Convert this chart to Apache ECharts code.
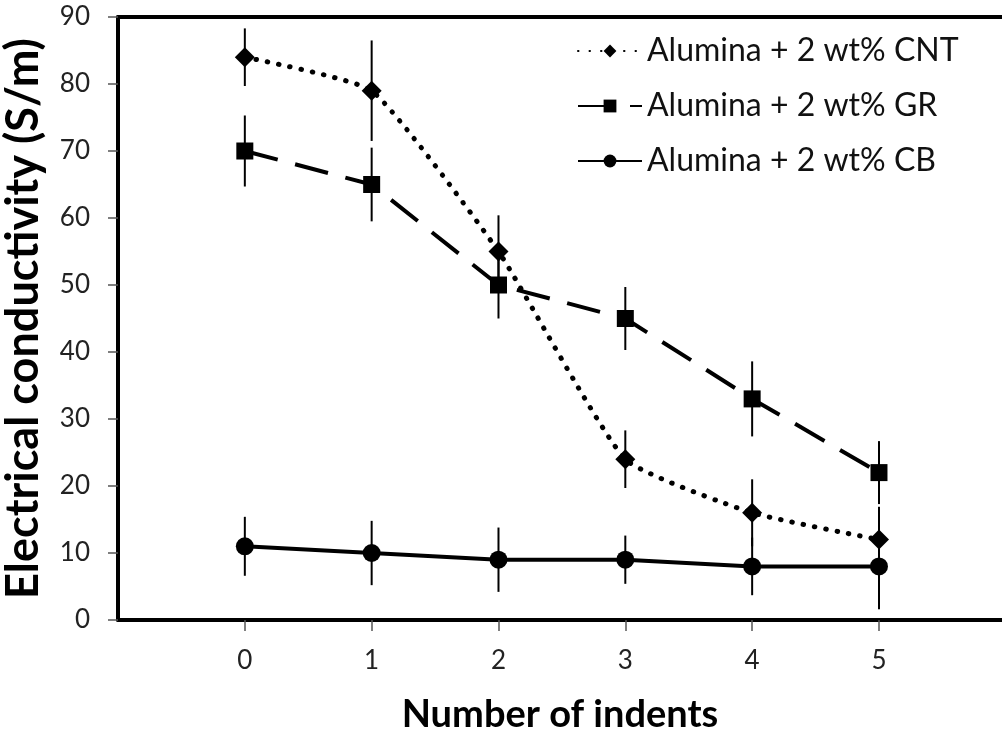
<!DOCTYPE html>
<html>
<head>
<meta charset="utf-8">
<script src="https://cdn.jsdelivr.net/npm/echarts@6/dist/echarts.min.js"></script>
<style>html,body{margin:0;padding:0;background:#fff}#c{width:1002px;height:733px}</style>
</head>
<body>
<div id="c"></div>
<script>
const indents = [0, 1, 2, 3, 4, 5];
const xTickLabels = ['0', '1', '2', '3', '4', '5'];
const cntValues = [84, 79, 55, 24, 16, 12];
const cntErrors = [4.3, 7.5, 5.4, 4.3, 5.0, 4.9];
const grValues = [70, 65, 50, 45, 33, 22];
const grErrors = [5.3, 5.5, 5.0, 4.7, 5.6, 4.7];
const cbValues = [11, 10, 9, 9, 8, 8];
const cbErrors = [4.4, 4.8, 4.8, 3.6, 4.3, 6.4];
const names = ['Alumina + 2 wt% CNT', 'Alumina + 2 wt% GR', 'Alumina + 2 wt% CB'];

const FONT = 'Lato';
function pts(vals) { return indents.map((x, i) => [x, vals[i]]); }
function errData(vals, errs) { return indents.map((x, i) => [x, vals[i] - errs[i], vals[i] + errs[i]]); }
function errSeries(vals, errs) {
  return {
    type: 'custom', z: 1, silent: true, xAxisIndex: 0, yAxisIndex: 0,
    data: errData(vals, errs),
    encode: { x: 0, y: [1, 2] },
    renderItem: function (params, api) {
      const lo = api.coord([api.value(0), api.value(1)]);
      const hi = api.coord([api.value(0), api.value(2)]);
      return { type: 'line', shape: { x1: lo[0], y1: lo[1], x2: hi[0], y2: hi[1] },
               style: { stroke: '#000', lineWidth: 2 } };
    }
  };
}

const chart = echarts.init(document.getElementById('c'));
chart.setOption({
  animation: false,
  backgroundColor: '#fff',
  grid: { left: 118, top: 17, bottom: 113, right: 0, show: false, containLabel: false, outerBoundsMode: 'none' },
  legend: {
    orient: 'vertical', left: 572, top: 30, itemWidth: 64, itemHeight: 16, itemGap: 23,
    data: names,
    textStyle: { fontFamily: FONT, fontSize: 32, lineHeight: 32, color: '#111' }
  },
  xAxis: [{
    type: 'value', min: -1, max: 5.97, interval: 1,
    name: 'Number of indents', nameLocation: 'middle', nameGap: 76,
    nameTextStyle: { fontFamily: FONT, fontSize: 38, fontWeight: 'bold', color: '#000' },
    axisLine: { show: true, onZero: false, lineStyle: { color: '#000', width: 4 } },
    axisTick: { show: true, length: 11, customValues: indents, lineStyle: { color: '#555', width: 1.5 } },
    axisLabel: { margin: 28, fontFamily: FONT, fontSize: 26, color: '#222', customValues: indents,
      formatter: function (v) { const i = indents.indexOf(v); return i >= 0 ? xTickLabels[i] : ''; } },
    splitLine: { show: false }
  }, {
    type: 'value', position: 'top', min: -1, max: 5.97,
    axisLine: { show: true, onZero: false, lineStyle: { color: '#000', width: 4 } },
    axisTick: { show: false }, axisLabel: { show: false }, splitLine: { show: false }
  }],
  yAxis: {
    type: 'value', min: 0, max: 90, interval: 10,
    name: 'Electrical conductivity (S/m)', nameLocation: 'middle', nameGap: 72,
    nameTextStyle: { fontFamily: FONT, fontSize: 45, fontWeight: 'bold', color: '#000' },
    axisLine: { show: true, onZero: false, lineStyle: { color: '#000', width: 4 } },
    axisTick: { show: true, length: 10, lineStyle: { color: '#555', width: 1.5 } },
    axisLabel: { margin: 28, fontFamily: FONT, fontSize: 26, color: '#222' },
    splitLine: { show: false }
  },
  series: [
    errSeries(cntValues, cntErrors),
    errSeries(grValues, grErrors),
    errSeries(cbValues, cbErrors),
    { name: names[0], type: 'line', z: 3, data: pts(cntValues), smooth: 0.15,
      symbol: 'diamond', symbolSize: 20, itemStyle: { color: '#000' },
      lineStyle: { color: '#000', width: 5, type: [0.5, 11], cap: 'round' } },
    { name: names[1], type: 'line', z: 3, data: pts(grValues),
      symbol: 'rect', symbolSize: 17, itemStyle: { color: '#000' },
      lineStyle: { color: '#000', width: 4, type: [34, 18] } },
    { name: names[2], type: 'line', z: 3, data: pts(cbValues),
      symbol: 'circle', symbolSize: 18, itemStyle: { color: '#000' },
      lineStyle: { color: '#000', width: 4 } }
  ]
});
</script>
</body>
</html>
